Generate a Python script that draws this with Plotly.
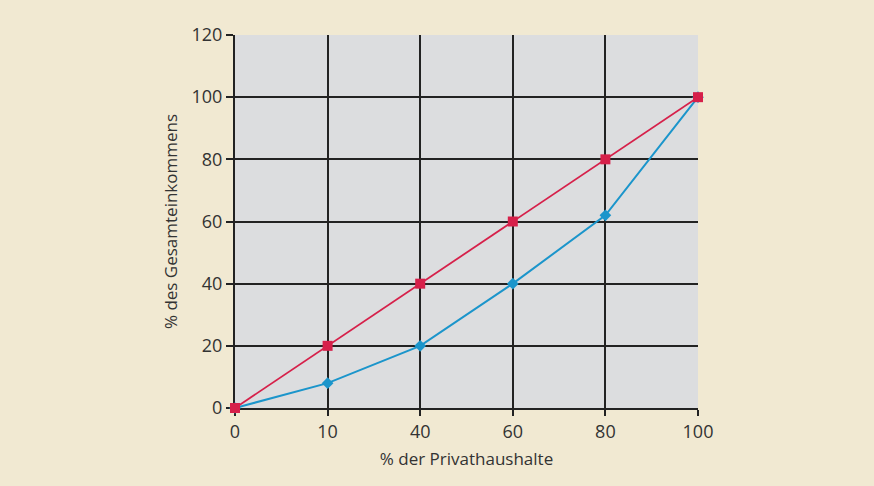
import plotly.graph_objects as go

categories = ["0", "10", "40", "60", "80", "100"]
equal_line = [0, 20, 40, 60, 80, 100]
lorenz = [0, 8, 20, 40, 62, 100]
y_ticks = [0, 20, 40, 60, 80, 100, 120]

RED = "#D6204A"
BLUE = "#1B95CB"
FONT = "Open Sans"

fig = go.Figure()
fig.add_trace(go.Scatter(
    x=categories, y=lorenz, mode="lines+markers",
    line=dict(color=BLUE, width=2),
    marker=dict(symbol="diamond", size=9, color=BLUE),
    cliponaxis=False, showlegend=False))
fig.add_trace(go.Scatter(
    x=categories, y=equal_line, mode="lines+markers",
    line=dict(color=RED, width=1.8),
    marker=dict(symbol="square", size=10, color=RED),
    cliponaxis=False, showlegend=False))

fig.update_layout(
    width=874, height=486,
    paper_bgcolor="#F1E9D2", plot_bgcolor="#DCDDDF",
    margin=dict(l=235, r=176, t=35, b=78),
    font=dict(family=FONT, size=16, color="#333333"),
    xaxis=dict(
        type="category", range=[0, 5],
        showgrid=True, gridcolor="#222222", gridwidth=2,
        showline=True, linecolor="#222222", linewidth=2,
        ticks="outside", ticklen=6, tickwidth=2, tickcolor="#222222",
        tickfont=dict(size=18, family=FONT, color="#333333"),
        title=dict(text="% der Privathaushalte", standoff=12,
                   font=dict(size=17, family=FONT, color="#333333")),
        layer="below traces", zeroline=False,
    ),
    yaxis=dict(
        range=[0, 120], tickvals=y_ticks,
        showgrid=True, gridcolor="#222222", gridwidth=2,
        showline=True, linecolor="#222222", linewidth=2,
        ticks="outside", ticklen=7, tickwidth=2, tickcolor="#222222",
        tickfont=dict(size=18, family=FONT, color="#333333"),
        title=dict(text="% des Gesamteinkommens", standoff=10,
                   font=dict(size=17, family=FONT, color="#333333")),
        layer="below traces", zeroline=False,
    ),
    xaxis2=dict(
        overlaying="x", side="top", type="category", range=[0, 5],
        showline=True, linecolor="#8E8E8E", linewidth=2,
        showgrid=False, showticklabels=False, ticks="", zeroline=False,
        layer="below traces",
    ),
    yaxis2=dict(
        overlaying="y", side="right", range=[0, 120],
        showline=True, linecolor="#8E8E8E", linewidth=2,
        showgrid=False, showticklabels=False, ticks="", zeroline=False,
        layer="below traces",
    ),
)

fig.write_html(
    "out.html",
    config={"displayModeBar": False},
    post_script="document.body.style.margin='0';document.body.style.background='#F1E9D2';",
)
